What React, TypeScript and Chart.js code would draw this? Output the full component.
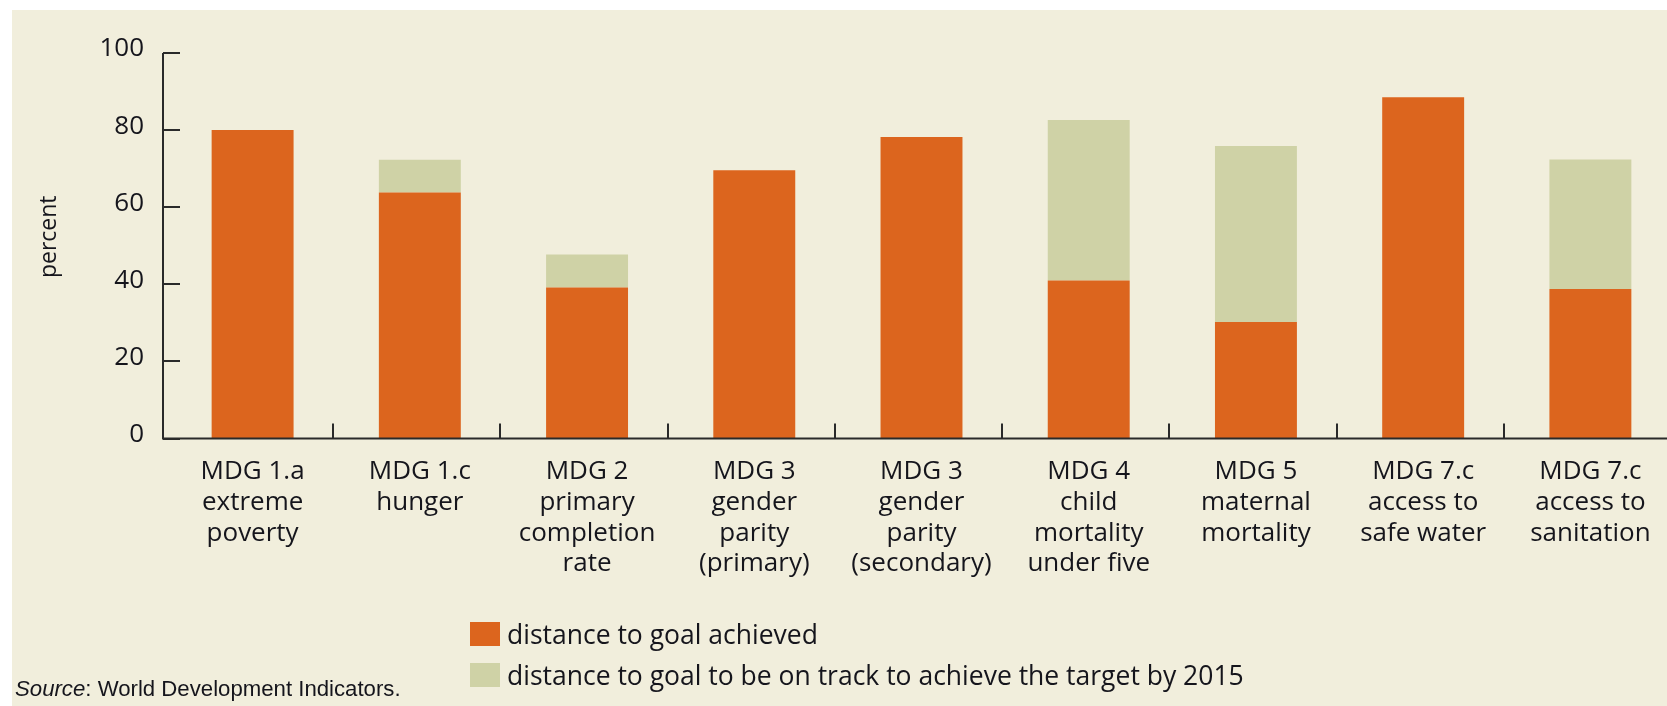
import React, { useEffect, useRef } from "react";
import { Chart, registerables } from "chart.js";

Chart.register(...registerables);

// ---- data ----
const categories: string[][] = [
  ["MDG 1.a", "extreme", "poverty"],
  ["MDG 1.c", "hunger"],
  ["MDG 2", "primary", "completion", "rate"],
  ["MDG 3", "gender", "parity", "(primary)"],
  ["MDG 3", "gender", "parity", "(secondary)"],
  ["MDG 4", "child", "mortality", "under five"],
  ["MDG 5", "maternal", "mortality"],
  ["MDG 7.c", "access to", "safe water"],
  ["MDG 7.c", "access to", "sanitation"],
];
const achieved = [80.0, 63.8, 39.2, 69.6, 78.2, 41.0, 30.2, 88.5, 38.8];
const onTrackGap = [0, 8.5, 8.5, 0, 0, 41.6, 45.7, 0, 33.6];
const yTickValues = [0, 20, 40, 60, 80, 100];
const seriesNames = [
  "distance to goal achieved",
  "distance to goal to be on track to achieve the target by 2015",
];
const yTitle = "percent";
const sourceLabel = "Source";
const sourceText = ": World Development Indicators.";

// ---- styles ----
const ORANGE = "#DC651E";
const GREEN = "#CFD2A6";
const BG = "#F1EEDC";
const TEXT = "#15151c";
const AXIS = "#2a2a2a";
const FONT = "'Open Sans', 'Noto Sans', sans-serif";

const decorPlugin = {
  id: "decor",
  beforeDraw(chart: any) {
    const ctx = chart.ctx;
    ctx.save();
    ctx.fillStyle = "#ffffff";
    ctx.fillRect(0, 0, chart.width, chart.height);
    ctx.fillStyle = BG;
    ctx.fillRect(12, 10, chart.width - 12, chart.height - 10);
    ctx.restore();
  },
  afterDatasetsDraw(chart: any) {
    const { ctx } = chart;
    const x = chart.scales.x;
    const y = chart.scales.y;
    ctx.save();
    ctx.strokeStyle = AXIS;
    ctx.lineWidth = 2;
    ctx.beginPath();
    const axisX = x.left - 6;
    const axisY = y.getPixelForValue(0);
    // y axis line
    ctx.moveTo(axisX, y.getPixelForValue(100));
    ctx.lineTo(axisX, axisY + 1);
    // x axis line
    ctx.moveTo(axisX, axisY);
    ctx.lineTo(chart.width, axisY);
    // y ticks (inward)
    yTickValues.forEach((v) => {
      const py = Math.round(y.getPixelForValue(v));
      ctx.moveTo(axisX, py);
      ctx.lineTo(axisX + 17, py);
    });
    // x ticks at category boundaries (inward)
    for (let i = 1; i <= categories.length; i++) {
      const px =
        Math.round((x.getPixelForValue(i - 1) + x.getPixelForValue(i)) / 2) - 3;
      ctx.moveTo(px, axisY);
      ctx.lineTo(px, axisY - 15);
    }
    ctx.stroke();

    // y axis title
    ctx.fillStyle = TEXT;
    ctx.font = `23px ${FONT}`;
    ctx.textAlign = "center";
    ctx.textBaseline = "alphabetic";
    ctx.translate(56, (y.top + y.bottom) / 2 - 9);
    ctx.rotate(-Math.PI / 2);
    ctx.fillText(yTitle, 0, 0);
    ctx.restore();
  },
};

export default function App() {
  const canvasRef = useRef<HTMLCanvasElement | null>(null);

  useEffect(() => {
    if (!canvasRef.current) return;
    const chart = new Chart(canvasRef.current, {
      type: "bar",
      data: {
        labels: categories,
        datasets: [
          {
            label: seriesNames[0],
            data: achieved,
            backgroundColor: ORANGE,
            borderWidth: 0,
          },
          {
            label: seriesNames[1],
            data: onTrackGap,
            backgroundColor: GREEN,
            borderWidth: 0,
          },
        ],
      },
      options: {
        responsive: false,
        animation: false,
        devicePixelRatio: 1,
        layout: { padding: { top: 53, left: 0, right: 0, bottom: 0 } },
        datasets: {
          bar: { categoryPercentage: 1, barPercentage: 0.49 },
        },
        plugins: {
          legend: { display: false },
          tooltip: { enabled: false },
        },
        scales: {
          x: {
            stacked: true,
            offset: true,
            grid: { display: false },
            border: { display: false },
            ticks: {
              autoSkip: false,
              maxRotation: 0,
              minRotation: 0,
              color: TEXT,
              padding: 10,
              font: { family: FONT, size: 26, lineHeight: 1.18 },
            },
            afterFit: (s: any) => {
              s.height = 706 - 438.5;
            },
          },
          y: {
            stacked: true,
            min: 0,
            max: 100,
            grid: { display: false },
            border: { display: false },
            ticks: {
              stepSize: 20,
              color: TEXT,
              padding: 17,
              labelOffset: -4,
              font: { family: FONT, size: 26 },
            },
            title: { display: false },
            afterFit: (s: any) => {
              s.width = 169;
            },
          },
        },
      },
      plugins: [decorPlugin],
    });
    return () => chart.destroy();
  }, []);

  return (
    <div
      style={{
        position: "fixed",
        left: 0,
        top: 0,
        width: 1667,
        height: 706,
        overflow: "hidden",
        background: "#ffffff",
      }}
    >
      <canvas
        ref={canvasRef}
        width={1674}
        height={706}
        style={{ position: "absolute", left: 0, top: 0, width: 1674, height: 706 }}
      />
      {seriesNames.map((name, i) => (
        <div
          key={name}
          style={{
            position: "absolute",
            left: 470,
            top: 621 + i * 41,
            height: 26,
            display: "flex",
            alignItems: "center",
            fontFamily: FONT,
            fontSize: 26.5,
            color: TEXT,
            whiteSpace: "nowrap",
          }}
        >
          <span
            style={{
              display: "inline-block",
              width: 30,
              height: 24,
              background: i === 0 ? ORANGE : GREEN,
              marginRight: 7,
            }}
          />
          <span style={{ lineHeight: "26px" }}>{name}</span>
        </div>
      ))}
      <div
        style={{
          position: "absolute",
          left: 15,
          top: 677,
          fontFamily: "'Liberation Sans', Arial, sans-serif",
          fontSize: 22.2,
          color: TEXT,
          whiteSpace: "nowrap",
          lineHeight: "24px",
        }}
      >
        <i>{sourceLabel}</i>
        {sourceText}
      </div>
    </div>
  );
}
